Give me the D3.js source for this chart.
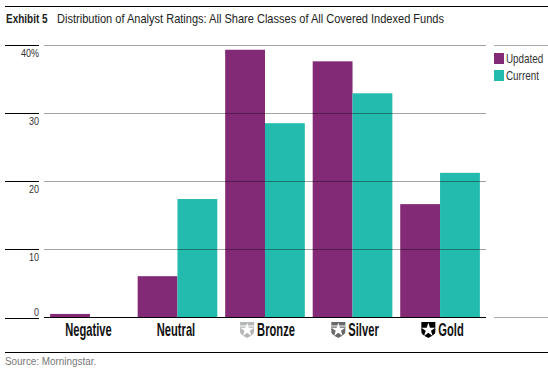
<!DOCTYPE html>
<html>
<head>
<meta charset="utf-8">
<script src="https://cdn.jsdelivr.net/npm/d3@7"></script>
<style>
    body { margin: 0; background: #fff; }
    text { font-family: "Liberation Sans", sans-serif; }
</style>
</head>
<body>
<div id="chart"></div>
<script>
const categories = ["Negative", "Neutral", "Bronze", "Silver", "Gold"];
const updated = [0.45, 6.0, 39.3, 37.6, 16.6];
const current = [0, 17.35, 28.5, 32.9, 21.2];
const yTicks = [0, 10, 20, 30, 40];
const seriesNames = ["Updated", "Current"];
const seriesColors = ["#822a76", "#22bbad"];
const medals = { Bronze: "#b4b6b7", Silver: "#67696b", Gold: "#000000" };

const width = 548;
const height = 369;

var svg = d3.select("#chart")
    .append("svg")
    .attr("width", width)
    .attr("height", height)
    .style("display", "block");

var xscale = d3.scaleBand()
    .domain(categories)
    .range([44, 486])
    .paddingInner(0.09)
    .paddingOuter(0.07);
var inner = d3.scaleBand()
    .domain(seriesNames)
    .range([0, xscale.bandwidth()]);
var yscale = d3.scaleLinear()
    .domain([0, 40])
    .range([317, 45]);

// the reference font is condensed, so squeeze the text sideways
function label(parent, x, y, size, squeeze, anchor, color, str) {
    return parent.append("text")
        .attr("transform", "translate(" + x + "," + y + ") scale(" + squeeze + ",1)")
        .attr("text-anchor", anchor)
        .attr("font-size", size)
        .attr("fill", color)
        .text(str);
}

// top and bottom rules
svg.append("rect").attr("x", 5).attr("y", 6).attr("width", 543).attr("height", 1).attr("fill", "#000");
svg.append("rect").attr("x", 5).attr("y", 352).attr("width", 543).attr("height", 1).attr("fill", "#000");

label(svg, 6, 23, 13, 0.77, "start", "#222", "Exhibit 5").attr("font-weight", "bold");
label(svg, 57, 23, 13, 0.85, "start", "#222", "Distribution of Analyst Ratings: All Share Classes of All Covered Indexed Funds");
label(svg, 5, 365, 11, 0.9, "start", "#777", "Source: Morningstar.");

// bars
[updated, current].forEach(function (values, s) {
    svg.append("g").selectAll("rect")
        .data(values)
        .enter()
        .append("rect")
        .attr("x", function (d, i) { return xscale(categories[i]) + inner(seriesNames[s]); })
        .attr("y", function (d) { return yscale(d); })
        .attr("width", inner.bandwidth())
        .attr("height", function (d) { return yscale(0) - yscale(d); })
        .attr("fill", seriesColors[s]);
});

// grid lines sit on top of the bars
var grid = svg.append("g");
yTicks.filter(function (d) { return d > 0; }).forEach(function (d) {
    grid.append("line")
        .attr("x1", 44).attr("x2", 486)
        .attr("y1", yscale(d) + 0.5).attr("y2", yscale(d) + 0.5)
        .attr("stroke", "#000").attr("stroke-opacity", 0.36);
});

// y axis: black tick rule with the label under it
var yAxis = svg.append("g");
yTicks.forEach(function (d) {
    yAxis.append("line")
        .attr("x1", 5).attr("x2", 39)
        .attr("y1", yscale(d) + (d === 0 ? 1.5 : 0.5)).attr("y2", yscale(d) + (d === 0 ? 1.5 : 0.5))
        .attr("stroke", "#000");
    label(yAxis, 39, yscale(d) + (d === 0 ? -1 : 12), 11, 0.82, "end", "#333", d === 40 ? "40%" : d);
});

// x axis baseline and labels
svg.append("line")
    .attr("x1", 44).attr("x2", 486)
    .attr("y1", 317.5).attr("y2", 317.5)
    .attr("stroke", "#000");

function drawShield(g, color, striped) {
    g.append("path")
        .attr("d", "M-7,-8H7V1.5C7,5 3,6 0,8C-3,6 -7,5 -7,1.5Z")
        .attr("fill", color);
    if (striped) {
        g.append("rect").attr("x", -7).attr("y", -4.5).attr("width", 14).attr("height", 1).attr("fill", "#fff");
    }
    g.append("path")
        .attr("d", d3.symbol().type(d3.symbolStar).size(60)())
        .attr("fill", "#fff");
}

var labels = svg.append("g");
categories.forEach(function (c) {
    var cx = xscale(c) + xscale.bandwidth() / 2;
    var hasMedal = medals[c] !== undefined;
    var x = cx + (hasMedal ? 11 : -1.5);
    var t = label(labels, x, 336, 18, 0.62, "middle", "#111", c).attr("font-weight", "bold");
    if (hasMedal) {
        var w = t.node().getComputedTextLength() * 0.62;
        var shield = labels.append("g")
            .attr("transform", "translate(" + (x - w / 2 - 10) + ",330)");
        drawShield(shield, medals[c], c !== "Gold");
    }
});

// legend
var legend = svg.append("g");
legend.append("line").attr("x1", 494).attr("x2", 548).attr("y1", 45.5).attr("y2", 45.5).attr("stroke", "#aaa");
legend.append("line").attr("x1", 494).attr("x2", 548).attr("y1", 317.5).attr("y2", 317.5).attr("stroke", "#aaa");
seriesNames.forEach(function (name, i) {
    legend.append("rect")
        .attr("x", 494).attr("y", 53 + i * 17)
        .attr("width", 10).attr("height", 11)
        .attr("fill", seriesColors[i]);
    label(legend, 506, 63 + i * 17, 12.5, 0.79, "start", "#333", name);
});
</script>
</body>
</html>
